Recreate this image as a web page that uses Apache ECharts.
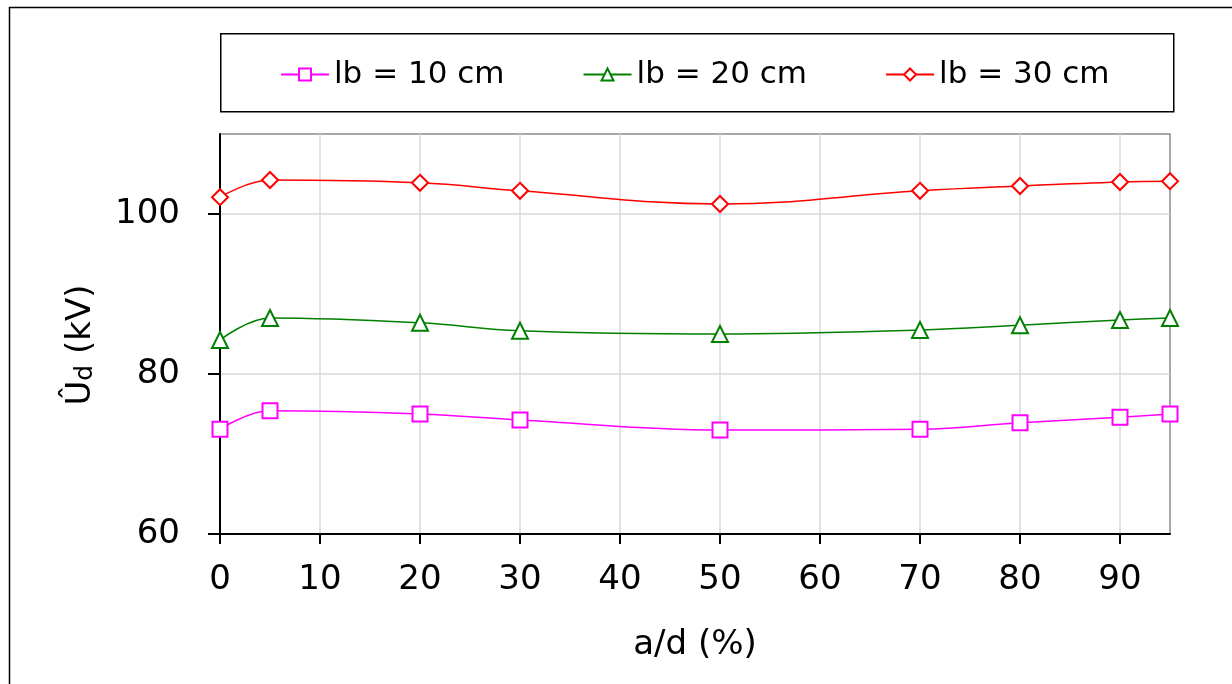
<!DOCTYPE html>
<html>
<head>
<meta charset="utf-8">
<script src="https://cdn.jsdelivr.net/npm/echarts@6/dist/echarts.min.js"></script>
<style>
html,body{margin:0;padding:0;background:#fff;}
#chart{width:1232px;height:684px;}
</style>
</head>
<body>
<div id="chart"></div>
<script>
const xValues = [0, 5, 20, 30, 50, 70, 80, 90, 95];
const lb10 = [73.1, 75.4, 75.0, 74.25, 73.0, 73.1, 73.9, 74.6, 75.0];
const lb20 = [84.25, 87.0, 86.4, 85.4, 85.0, 85.5, 86.1, 86.75, 87.0];
const lb30 = [102.1, 104.25, 103.9, 102.9, 101.25, 102.9, 103.5, 104.0, 104.1];
const seriesNames = ['lb = 10 cm', 'lb = 20 cm', 'lb = 30 cm'];
const xTicks = [0, 10, 20, 30, 40, 50, 60, 70, 80, 90];
const yTicks = [60, 80, 100];

const FONT = 'DejaVu Sans';
const pairs = arr => xValues.map((x, i) => [x, arr[i]]);

function lineSeries(name, data, color, symbol, size) {
  return {
    name: name,
    type: 'line',
    data: pairs(data),
    smooth: 0.4,
    symbol: symbol,
    symbolSize: size,
    showAllSymbol: true,
    lineStyle: { color: color, width: 1.5 },
    itemStyle: { color: color, borderColor: color, borderWidth: 1.5 },
    emphasis: { disabled: true },
    z: 3
  };
}

const chart = echarts.init(document.getElementById('chart'));
chart.setOption({
  animation: false,
  backgroundColor: '#ffffff',
  textStyle: { fontFamily: FONT },
  graphic: [
    { type: 'rect', left: 7, top: 5, shape: { width: 1400, height: 900 },
      style: { fill: 'none', stroke: '#000', lineWidth: 1.5 }, z: -10 },
    { type: 'rect', left: 220, top: 33, shape: { width: 953, height: 78 },
      style: { fill: '#fff', stroke: '#000', lineWidth: 1.5 }, z: -5 }
  ],
  legend: {
    top: 54,
    left: 275,
    itemWidth: 48,
    itemHeight: 15,
    itemGap: 78,
    data: seriesNames,
    textStyle: { fontFamily: FONT, fontSize: 31, color: '#000', padding: [0, 0, 0, 0] },
    selectedMode: false
  },
  grid: {
    left: 220, right: 62, top: 134, bottom: 150,
    show: true, borderColor: '#8c8c8c', borderWidth: 1.5, backgroundColor: 'transparent'
  },
  xAxis: {
    type: 'value',
    min: 0, max: 95, interval: 10,
    name: 'a/d (%)',
    nameLocation: 'middle',
    nameGap: 94,
    nameTextStyle: { fontFamily: FONT, fontSize: 34, color: '#000' },
    axisLine: { show: true, onZero: false, lineStyle: { color: '#000', width: 2 } },
    axisTick: { show: true, inside: false, length: 10, customValues: xTicks, lineStyle: { color: '#000', width: 2 } },
    axisLabel: { customValues: xTicks, margin: 29, fontFamily: FONT, fontSize: 34, color: '#000' },
    splitLine: { show: true, lineStyle: { color: '#d9d9d9', width: 1.5 } }
  },
  yAxis: {
    type: 'value',
    min: 60, max: 110, interval: 20,
    name: '{a|Û}{b|d}{a| (kV)}',
    nameLocation: 'middle',
    nameGap: 122,
    nameRotate: 90,
    nameTextStyle: {
      color: '#000',
      padding: [0, 0, 0, -22],
      rich: {
        a: { fontFamily: FONT, fontSize: 34, color: '#000', verticalAlign: 'bottom', lineHeight: 38 },
        b: { fontFamily: FONT, fontSize: 25, color: '#000', verticalAlign: 'bottom', lineHeight: 34 }
      }
    },
    axisLine: { show: true, onZero: false, lineStyle: { color: '#000', width: 2 } },
    axisTick: { show: true, inside: false, length: 12, customValues: yTicks, lineStyle: { color: '#000', width: 2 } },
    axisLabel: { customValues: yTicks, margin: 40, fontFamily: FONT, fontSize: 34, color: '#000' },
    splitLine: { show: true, lineStyle: { color: '#d9d9d9', width: 1.5 } }
  },
  series: [
    lineSeries(seriesNames[0], lb10, '#ff00ff', 'emptyRect', 15),
    lineSeries(seriesNames[1], lb20, '#008000', 'emptyTriangle', 16),
    lineSeries(seriesNames[2], lb30, '#ff0000', 'emptyDiamond', 16)
  ]
});
</script>
</body>
</html>
